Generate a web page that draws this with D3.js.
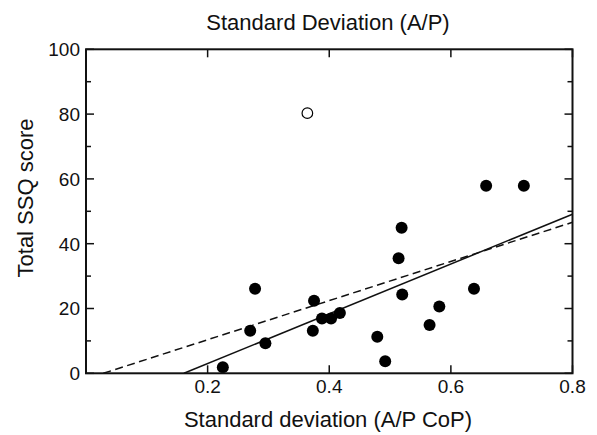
<!DOCTYPE html>
<html lang="en">
<head>
    <meta charset="UTF-8">
    <title>Standard Deviation (A/P)</title>
    <script src="https://d3js.org/d3.v7.min.js"></script>
    <style>
        body { margin: 0; background: #fff; }
        svg text { font-family: 'Liberation Sans', Arial, Helvetica, sans-serif; fill: #111; }
        .frame { fill: none; stroke: #111; stroke-width: 2; }
        .tick-mark { stroke: #111; stroke-width: 1.5; }
        .fit { fill: none; stroke: #111; stroke-width: 1.5; }
        .fit-dashed { stroke-dasharray: 8 4.5; }
    </style>
</head>
<body>
<svg id="chart" width="597" height="435"></svg>
<script>
    // --- data ---
    const sdAP   = [0.225, 0.270, 0.278, 0.295, 0.373, 0.375, 0.388, 0.403, 0.4175, 0.479,
                    0.492, 0.514, 0.519, 0.520, 0.565, 0.581, 0.638, 0.658, 0.720];
    const ssq    = [1.9, 13.1, 26.1, 9.3, 13.1, 22.4, 16.9, 16.9, 18.6, 11.3,
                    3.7, 35.5, 44.9, 24.3, 14.9, 20.6, 26.1, 57.9, 57.9];
    // outlier (open circle)
    const outlierX = [0.364];
    const outlierY = [80.3];
    // regression lines (endpoints)
    const fitSolidX  = [0.161, 0.8];
    const fitSolidY  = [0, 49.1];
    const fitDashedX = [0.0285, 0.8];
    const fitDashedY = [0, 46.6];

    const xTicks = [0.2, 0.4, 0.6, 0.8];
    const yMajor = [0, 20, 40, 60, 80, 100];
    const yMinor = [10, 30, 50, 70, 90];

    const svg = d3.select('#chart');
    const margin = { left: 86, top: 49.3, right: 24.5, bottom: 61.7 };
    const W = 597 - margin.left - margin.right;
    const H = 435 - margin.top - margin.bottom;

    const x = d3.scaleLinear().domain([0, 0.8]).range([0, W]);
    const y = d3.scaleLinear().domain([0, 100]).range([H, 0]);

    const g = svg.append('g').attr('transform', `translate(${margin.left},${margin.top})`);

    // inward ticks on all four sides
    const major = 8, minor = 5;
    yMajor.concat(yMinor).forEach(v => {
        const len = yMajor.includes(v) ? major : minor;
        g.append('line').attr('class', 'tick-mark')
            .attr('x1', 0).attr('x2', len).attr('y1', y(v)).attr('y2', y(v));
        g.append('line').attr('class', 'tick-mark')
            .attr('x1', W - len).attr('x2', W).attr('y1', y(v)).attr('y2', y(v));
    });
    xTicks.forEach(v => {
        g.append('line').attr('class', 'tick-mark')
            .attr('x1', x(v)).attr('x2', x(v)).attr('y1', H).attr('y2', H - major);
        g.append('line').attr('class', 'tick-mark')
            .attr('x1', x(v)).attr('x2', x(v)).attr('y1', 0).attr('y2', major);
    });

    // tick labels
    g.selectAll('.ylab').data(yMajor).enter().append('text')
        .attr('x', -6).attr('y', d => y(d)).attr('dy', '0.36em')
        .attr('text-anchor', 'end').attr('font-size', 19)
        .text(d => d);
    g.selectAll('.xlab').data(xTicks).enter().append('text')
        .attr('x', d => x(d)).attr('y', H + 20)
        .attr('text-anchor', 'middle').attr('font-size', 19)
        .text(d => d3.format('.1f')(d));

    // regression lines
    const line = d3.line().x(d => x(d[0])).y(d => y(d[1]));
    g.append('path').attr('class', 'fit')
        .attr('d', line(d3.zip(fitSolidX, fitSolidY)));
    g.append('path').attr('class', 'fit fit-dashed')
        .attr('d', line(d3.zip(fitDashedX, fitDashedY)));

    // points
    g.selectAll('.pt').data(d3.zip(sdAP, ssq)).enter().append('circle')
        .attr('cx', d => x(d[0])).attr('cy', d => y(d[1])).attr('r', 6)
        .attr('fill', '#000');
    g.selectAll('.out').data(d3.zip(outlierX, outlierY)).enter().append('circle')
        .attr('cx', d => x(d[0])).attr('cy', d => y(d[1])).attr('r', 5.3)
        .attr('fill', '#fff').attr('stroke', '#000').attr('stroke-width', 1.2);

    // frame
    g.append('rect').attr('class', 'frame').attr('width', W).attr('height', H);

    // titles
    svg.append('text').attr('x', 328).attr('y', 29.5)
        .attr('text-anchor', 'middle').attr('font-size', 22)
        .text('Standard Deviation (A/P)');
    svg.append('text').attr('x', 328).attr('y', 427)
        .attr('text-anchor', 'middle').attr('font-size', 22)
        .text('Standard deviation (A/P CoP)');
    svg.append('text').attr('transform', 'translate(33,198) rotate(-90)')
        .attr('text-anchor', 'middle').attr('font-size', 22)
        .text('Total SSQ score');
</script>
</body>
</html>
